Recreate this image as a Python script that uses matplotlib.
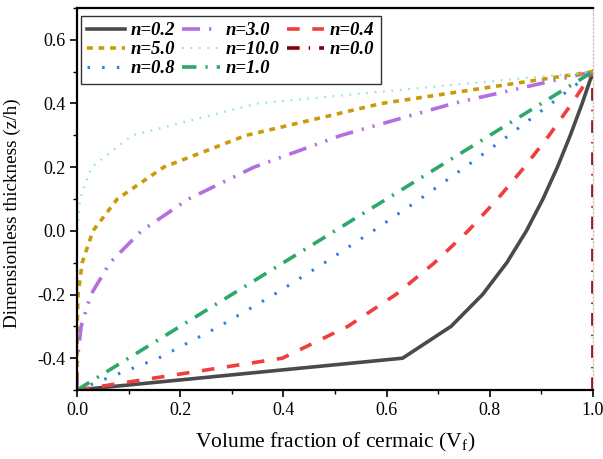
import matplotlib
matplotlib.use("Agg")
import matplotlib.pyplot as plt
from matplotlib.ticker import MultipleLocator

plt.rcParams['font.family'] = ['Liberation Serif', 'DejaVu Serif']

# thickness coordinate z/h, shared by all curves
z = [-0.5, -0.4, -0.3, -0.2, -0.1, 0.0, 0.1, 0.2, 0.3, 0.4, 0.5]

# ceramic volume fraction for each power index n
vf_02 = [0.0, 0.631, 0.725, 0.786, 0.833, 0.871, 0.903, 0.931, 0.956, 0.979, 1.0]
vf_30 = [0.0, 0.001, 0.008, 0.027, 0.064, 0.125, 0.216, 0.343, 0.512, 0.729, 1.0]
vf_04 = [0.0, 0.398, 0.525, 0.618, 0.693, 0.758, 0.815, 0.867, 0.915, 0.959, 1.0]
vf_50 = [0.0, 0.00001, 0.0003, 0.002, 0.010, 0.031, 0.078, 0.168, 0.328, 0.590, 1.0]
vf_100 = [0.0, 0.0, 0.0, 0.0, 0.0001, 0.001, 0.006, 0.028, 0.107, 0.349, 1.0]
vf_00 = [1.0, 1.0, 1.0, 1.0, 1.0, 1.0, 1.0, 1.0, 1.0, 1.0, 1.0]
vf_08 = [0.0, 0.158, 0.276, 0.382, 0.480, 0.574, 0.665, 0.752, 0.837, 0.919, 1.0]
vf_10 = [0.0, 0.1, 0.2, 0.3, 0.4, 0.5, 0.6, 0.7, 0.8, 0.9, 1.0]

fig = plt.figure(figsize=(6.03, 4.59), dpi=100)
ax = fig.add_axes([0.1277, 0.1503, 0.8557, 0.8323])

h = {}
h['0.2'], = ax.plot(vf_02, z, color='#4a4a4a', lw=2.6, label='n=0.2')
h['3.0'], = ax.plot(vf_30, z, color='#b36fe0', lw=2.6, dashes=(5, 2.5, 0.6, 2.5, 0.6, 2.5), label='n=3.0')
h['0.4'], = ax.plot(vf_04, z, color='#ef3e3e', lw=2.6, dashes=(3.5, 3.5), label='n=0.4')
h['5.0'], = ax.plot(vf_50, z, color='#cc9a06', lw=2.6, dashes=(1.6, 1.6), label='n=5.0')
h['10.0'], = ax.plot(vf_100, z, color='#96e4e6', lw=1.6, dashes=(0.8, 3.0), label='n=10.0')
h['0.0'], = ax.plot(vf_00, z, color='#8b0000', lw=2.6, dashes=(3.5, 2.5, 0.4, 2.5), label='n=0.0')
h['0.8'], = ax.plot(vf_08, z, color='#2e7de0', lw=2.2, dashes=(0.8, 4.0), label='n=0.8')
h['1.0'], = ax.plot(vf_10, z, color='#2ea86a', lw=2.6, dashes=(4, 2.5, 0.6, 2.5), label='n=1.0')

ax.set_xlim(0, 1.0)
ax.set_ylim(-0.5, 0.7)
ax.set_xticks([0.0, 0.2, 0.4, 0.6, 0.8, 1.0])
ax.set_yticks([-0.4, -0.2, 0.0, 0.2, 0.4, 0.6])
ax.xaxis.set_minor_locator(MultipleLocator(0.1))
ax.yaxis.set_minor_locator(MultipleLocator(0.1))
ax.xaxis.set_major_formatter(plt.FormatStrFormatter('%.1f'))
ax.yaxis.set_major_formatter(plt.FormatStrFormatter('%.1f'))
ax.tick_params(which='major', direction='out', length=5, width=1.2, labelsize=13)
ax.tick_params(which='minor', direction='out', length=3, width=1.0)
ax.tick_params(top=False, right=False)

for s in ['left', 'bottom', 'top']:
    ax.spines[s].set_linewidth(1.6)
ax.spines['right'].set_color('#c8c8c8')
ax.spines['right'].set_linestyle(':')
ax.spines['right'].set_linewidth(1.0)

ax.set_xlabel('Volume fraction of cermaic (V$_\\mathregular{f}$)', fontsize=15.5, labelpad=9)
ax.set_ylabel('Dimensionless thickness (z/h)', fontsize=13.8, labelpad=9)
ax.yaxis.set_label_coords(-0.108, 0.463)

order = ['0.2', '5.0', '0.8', '3.0', '10.0', '1.0', '0.4', '0.0']
leg = ax.legend([h[k] for k in order], ['n=' + k for k in order], ncol=3,
                loc='upper left', bbox_to_anchor=(0.0, 0.99),
                prop={'weight': 'bold', 'style': 'italic', 'size': 13.5},
                fancybox=False, edgecolor='black', handlelength=2.0,
                handletextpad=0.3, columnspacing=0.4, labelspacing=0.1,
                borderpad=0.35, borderaxespad=0.2)
leg.get_frame().set_linewidth(1.0)

fig.savefig('out.png', dpi=100)
